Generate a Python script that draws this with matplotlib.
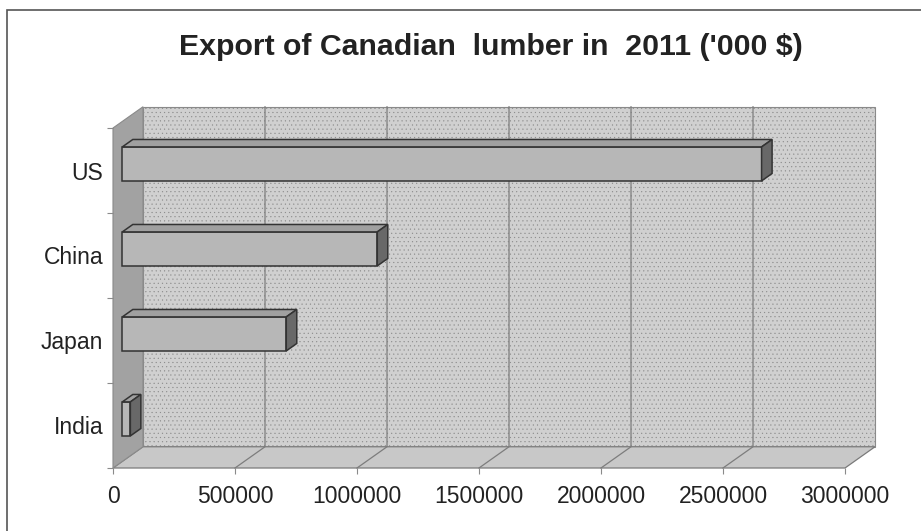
import matplotlib.pyplot as plt
from matplotlib.patches import Polygon, Rectangle
import numpy as np

plt.rcParams['font.family'] = ['Liberation Sans', 'DejaVu Sans']

countries = ['India', 'Japan', 'China', 'US']
exports = [33000, 672000, 1045000, 2620000]   # '000 $
x_ticks = [0, 500000, 1000000, 1500000, 2000000, 2500000, 3000000]
title = "Export of Canadian  lumber in  2011 ('000 $)"

# fake 3d: each depth unit shifts a point right (data x) and up (category y)
DEPTH_X = 123000
DEPTH_Y = 0.25
BAR_Z = (0.31, 0.66)
BAR_H = 0.4

WALL = '#d0d0d0'
SIDE_WALL = '#a2a2a2'
FLOOR = '#c8c8c8'
GRID = '#7d7d7d'
EDGE = '#333333'


def proj(x, y, z):
    return (x + z * DEPTH_X, y + z * DEPTH_Y)


def face(ax, pts, color, ec=EDGE, lw=1.1, hatch=None, z=2):
    p = Polygon([proj(*q) for q in pts], closed=True, facecolor=color,
                edgecolor=ec, linewidth=lw, hatch=hatch, clip_on=False, zorder=z)
    ax.add_patch(p)


fig = plt.figure(figsize=(9.21, 5.31), dpi=100)
ax = fig.add_axes([113 / 921, 63 / 531, 732 / 921, 340 / 531])
xmax = x_ticks[-1]
ymin, ymax = -0.5, len(countries) - 0.5
ax.set_xlim(0, xmax)
ax.set_ylim(ymin, ymax)
for s in ax.spines.values():
    s.set_visible(False)
ax.patch.set_visible(False)

plt.rcParams['hatch.linewidth'] = 0.3
plt.rcParams['hatch.color'] = '#c8c8c8'

# walls and floor
face(ax, [(0, ymin, 1), (xmax, ymin, 1), (xmax, ymax, 1), (0, ymax, 1)],
     WALL, ec='#8a8a8a', lw=0.8, hatch='....', z=1)
face(ax, [(0, ymin, 0), (xmax, ymin, 0), (xmax, ymin, 1), (0, ymin, 1)],
     FLOOR, ec='#7a7a7a', lw=0.9, z=1)
face(ax, [(0, ymin, 0), (0, ymin, 1), (0, ymax, 1), (0, ymax, 0)],
     SIDE_WALL, ec='#8a8a8a', lw=0.8, z=1)

# gridlines on back wall and floor
for t in x_ticks[1:-1]:
    xs, ys = zip(proj(t, ymin, 0), proj(t, ymin, 1), proj(t, ymax, 1))
    ax.plot(xs, ys, color=GRID, lw=0.9, clip_on=False, zorder=1.5)

# bars
z0, z1 = BAR_Z
for i, v in enumerate(exports):
    lo, hi = i - BAR_H / 2, i + BAR_H / 2
    face(ax, [(0, lo, z0), (v, lo, z0), (v, hi, z0), (0, hi, z0)], '#b7b7b7', z=3)
    face(ax, [(0, hi, z0), (v, hi, z0), (v, hi, z1), (0, hi, z1)], '#a0a0a0', z=3)
    face(ax, [(v, lo, z0), (v, lo, z1), (v, hi, z1), (v, hi, z0)], '#686868', z=3)

ax.set_xticks(x_ticks)
ax.set_xticklabels([str(t) for t in x_ticks])
ax.set_yticks(range(len(countries)))
ax.set_yticklabels(countries)
ax.set_yticks(np.arange(ymin, ymax + 0.01, 1.0), minor=True)
ax.tick_params(axis='x', length=4.5, width=0.8, color='#8a8a8a', pad=8,
               labelsize=16.5, labelcolor='#222222')
ax.tick_params(axis='y', which='major', length=0, pad=7,
               labelsize=16.5, labelcolor='#222222')
ax.tick_params(axis='y', which='minor', length=4.5, width=0.8, color='#8a8a8a')

fig.text(491 / 921, (531 - 55) / 531, title, ha='center', va='baseline',
         fontsize=21.8, fontweight='bold', color='#222222')

# chart border
fig.add_artist(Rectangle((7 / 921, -0.1), 1.2, (531 - 10) / 531 + 0.1,
                         transform=fig.transFigure, fill=False,
                         edgecolor='#555555', linewidth=1.2))

fig.savefig('out.png', dpi=100)
